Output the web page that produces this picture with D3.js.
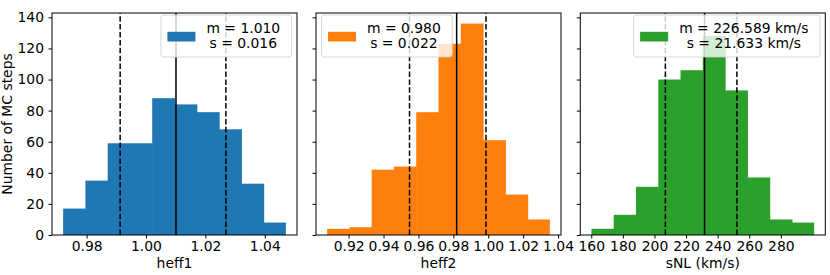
<!DOCTYPE html>
<html>
<head>
<meta charset="utf-8">
<script src="https://cdn.jsdelivr.net/npm/d3@7"></script>
<style>
  body { margin: 0; background: #fff; }
  svg text { font-family: "DejaVu Sans", sans-serif; fill: #000; }
</style>
</head>
<body>
<div id="chart"></div>
<script>
// values
var xLabels = ["heff1", "heff2", "sNL (km/s)"];
var colors = ["#1f77b4", "#ff7f0e", "#2ca02c"];
var binStarts = [0.9721, 0.9077, 160.1];
var binWidths = [0.0075, 0.01276, 14.1];
var counts1 = [17, 35, 59, 59, 88, 84, 79, 68, 33, 8];
var counts2 = [4, 5, 42, 44, 79, 123, 136, 61, 26, 10];
var counts3 = [4, 13, 31, 100, 106, 128, 93, 37, 10, 8];
var loLines = [0.9913, 0.9549, 206.9];
var meanLines = [1.0101, 0.9819, 231.7];
var hiLines = [1.0269, 0.9987, 252.2];
var xTicks1 = [0.98, 1.00, 1.02, 1.04];
var xTicks2 = [0.92, 0.94, 0.96, 0.98, 1.00, 1.02, 1.04];
var xTicks3 = [160, 180, 200, 220, 240, 260, 280];
var yTicks = [0, 20, 40, 60, 80, 100, 120, 140];
var legendTexts = [["m = 1.010", "s = 0.016"], ["m = 0.980", "s = 0.022"], ["m = 226.589 km/s", "s = 21.633 km/s"]];
var legendSide = ["right", "left", "right"];

(function () {
    var allCounts = [counts1, counts2, counts3];
    var allTicks = [xTicks1, xTicks2, xTicks3];
    var tickFormats = [d3.format(".2f"), d3.format(".2f"), d3.format("d")];

    var W = 830, H = 275;
    var fontSize = 13.9;
    var plotTop = 13, plotBottom = 235;
    var lefts = [52, 316, 580.3];
    var panelW = 245;

    var svg = d3.select("#chart").append("svg")
        .attr("width", W).attr("height", H);

    var yMax = d3.max([].concat(counts1, counts2, counts3)) * 1.05;
    var yScale = d3.scaleLinear().domain([0, yMax]).range([plotBottom, plotTop]);

    for (var p = 0; p < 3; p++) {
        var counts = allCounts[p];
        var x0 = binStarts[p], bw = binWidths[p];
        var x1 = x0 + bw * counts.length;
        var padX = (x1 - x0) * 0.05;
        var xScale = d3.scaleLinear().domain([x0 - padX, x1 + padX]).range([0, panelW]);

        var g = svg.append("g").attr("transform", "translate(" + lefts[p] + ",0)");

        // bars (slight overlap so no seams show between neighbours)
        g.selectAll(".bar")
            .data(counts)
          .enter().append("rect")
            .attr("class", "bar")
            .attr("x", function (d, i) { return xScale(x0 + i * bw); })
            .attr("width", function (d, i) {
                var w = xScale(x0 + (i + 1) * bw) - xScale(x0 + i * bw);
                return i < counts.length - 1 ? w + 0.6 : w;
            })
            .attr("y", function (d) { return yScale(d); })
            .attr("height", function (d) { return plotBottom - yScale(d); })
            .attr("fill", colors[p]);

        // mean and spread lines
        var vlines = [
            { v: loLines[p], dash: "5.5,2.4" },
            { v: meanLines[p], dash: null },
            { v: hiLines[p], dash: "5.5,2.4" }
        ];
        g.selectAll(".vline")
            .data(vlines)
          .enter().append("line")
            .attr("class", "vline")
            .attr("x1", function (d) { return xScale(d.v); })
            .attr("x2", function (d) { return xScale(d.v); })
            .attr("y1", plotBottom).attr("y2", plotTop)
            .attr("stroke", "#000")
            .attr("stroke-width", 1.5)
            .attr("stroke-dasharray", function (d) { return d.dash; });

        // x axis
        var xAxis = d3.axisBottom(xScale)
            .tickValues(allTicks[p])
            .tickFormat(tickFormats[p])
            .tickSize(3.5)
            .tickPadding(2.5);
        var xa = g.append("g")
            .attr("transform", "translate(0," + plotBottom + ")")
            .call(xAxis);
        xa.select(".domain").remove();
        xa.selectAll("text").style("font-size", fontSize + "px").attr("fill", "#000");

        // y axis
        var yAxis = d3.axisLeft(yScale)
            .tickValues(yTicks)
            .tickSize(3.5)
            .tickPadding(4.5)
            .tickFormat(p === 0 ? d3.format("d") : "");
        var ya = g.append("g").call(yAxis);
        ya.select(".domain").remove();
        ya.selectAll("text").style("font-size", fontSize + "px").attr("fill", "#000");

        // frame
        g.append("rect")
            .attr("x", 0).attr("y", plotTop)
            .attr("width", panelW).attr("height", plotBottom - plotTop)
            .attr("fill", "none")
            .attr("stroke", "#000")
            .attr("stroke-width", 1);

        // x label
        g.append("text")
            .attr("x", panelW / 2)
            .attr("y", 268)
            .attr("text-anchor", "middle")
            .style("font-size", fontSize + "px")
            .text(xLabels[p]);

        // legend
        var leg = g.append("g");
        var box = leg.append("rect");
        var lt = leg.append("text")
            .attr("text-anchor", "middle")
            .style("font-size", fontSize + "px");
        lt.selectAll("tspan")
            .data(legendTexts[p])
          .enter().append("tspan")
            .text(function (d) { return d; });
        var textW = 0;
        lt.selectAll("tspan").each(function () {
            textW = Math.max(textW, this.getComputedTextLength());
        });
        var boxW = 6.5 + 28 + 11 + textW + 11.5;
        var boxH = 42;
        var bx = legendSide[p] === "right" ? panelW - 5.3 - boxW : 5.5;
        var by = 15;
        box.attr("x", bx).attr("y", by)
            .attr("width", boxW).attr("height", boxH)
            .attr("rx", 3)
            .attr("fill", "#fff").attr("fill-opacity", 0.8)
            .attr("stroke", "#ccc").attr("stroke-opacity", 0.8)
            .attr("stroke-width", 1);
        leg.append("rect")
            .attr("x", bx + 6.5).attr("y", by + 16.8)
            .attr("width", 28).attr("height", 9.7)
            .attr("fill", colors[p]);
        var tcx = bx + 6.5 + 28 + 11 + textW / 2;
        lt.selectAll("tspan")
            .attr("x", tcx)
            .attr("y", function (d, i) { return by + 18 + i * 14.8; });
    }

    // shared y label
    svg.append("text")
        .attr("transform", "translate(12," + ((plotTop + plotBottom) / 2) + ") rotate(-90)")
        .attr("text-anchor", "middle")
        .style("font-size", fontSize + "px")
        .text("Number of MC steps");
})();
</script>
</body>
</html>
